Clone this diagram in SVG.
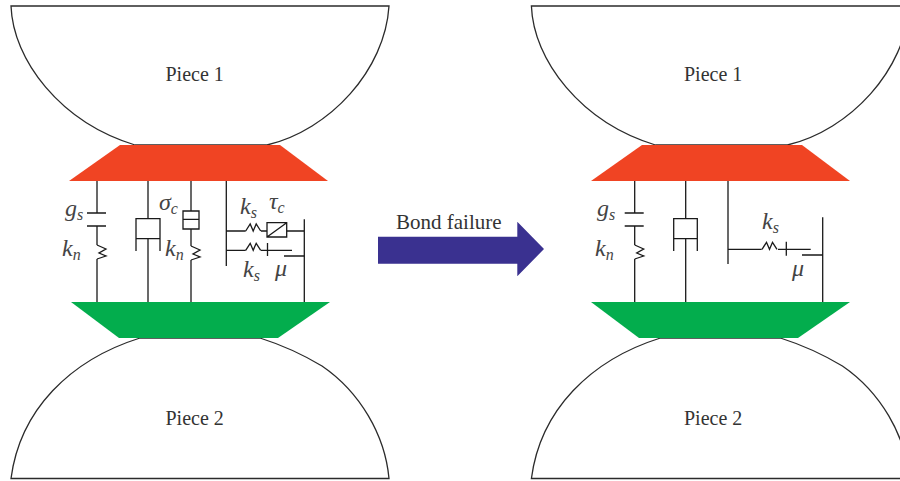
<svg xmlns="http://www.w3.org/2000/svg" width="900" height="481" viewBox="0 0 900 481">
<style>
.piece{fill:#fff;stroke:#2b2b2b;stroke-width:1.3}
.w{fill:none;stroke:#1a1a1a;stroke-width:1.3}
.t{font-family:"Liberation Serif",serif;font-size:20px;fill:#333}
.i{font-family:"Liberation Serif",serif;font-style:italic;font-size:24px;fill:#444}
.s{font-size:16px}
.red{fill:#f04423}
.green{fill:#03ad4d}
</style>
<defs>
<path id="top" d="M11,6 H389 C385,70 330,130 267,145 H135 C60,122 13,60 11,6 Z"/>
<path id="bot" d="M11,478.5 H389 C385,435 360,392 322,366 C302,354 282,345 260,338 H140 C70,360 20,410 11,478.5 Z"/>
<path id="spring" d="M0,0 L9,4 L2,8 L9,11 L0,14"/>
<path id="hs" d="M0,0 L4.5,-7 L7.5,0 L10.5,-7 L15,0"/>
</defs>
<g id="piece-1-left"><use href="#top" class="piece"/><text class="t" x="165.500" y="81">Piece 1</text></g>
<g id="piece-2-left"><use href="#bot" class="piece"/><text class="t" x="165.500" y="425">Piece 2</text></g>
<g id="piece-1-right"><use href="#top" class="piece" x="520.400"/><text class="t" x="684" y="81">Piece 1</text></g>
<g id="piece-2-right"><use href="#bot" class="piece" x="520.400"/><text class="t" x="684" y="425">Piece 2</text></g>
<g id="connectors">
<path class="w" d="M97,181 V213 M87,213 H106 M87,226 H106 M97,226 V245 M97,259 V302"/>
<use href="#spring" class="w" x="97" y="245"/>
<path class="w" d="M148,181 V218.700 M136,251 V218.700 H160 V251 M136,238.700 H160 M148,238.700 V302"/>
<path class="w" d="M191,181 V211 M183,211 H199 V229 H183 Z M183,219.300 H199 M191,229 V246 M191,260 V302"/>
<use href="#spring" class="w" x="191" y="246"/>
<path class="w" d="M226.300,181 V266 M226.300,231 H245.700 M261,231 H267 M267,222.700 H286.700 V237 H267 Z M267,237 L286.700,222.700 M286.700,231 H304.300 M304.300,219.300 V302"/>
<use href="#hs" class="w" x="245.700" y="231"/>
<path class="w" d="M226.300,250.300 H245.700 M261,250.300 H292 M267.500,243 V256 M284,256 H304.300"/>
<use href="#hs" class="w" x="245.700" y="250.300"/>
<path class="w" d="M634.700,181 V213 M624.700,213 H643.700 M624.700,226 H643.700 M634.700,226 V245 M634.700,259 V302"/>
<use href="#spring" class="w" x="634.700" y="245"/>
<path class="w" d="M685.700,181 V218.700 M673.700,251 V218.700 H697.300 V251 M673.700,238.700 H697.300 M685.700,238.700 V302"/>
<path class="w" d="M728,181 V264 M728,249.300 H761.700 M778,249.300 H810.700 M786.300,241.700 V255.700 M802,255 H822.700 M822.700,217.300 V302"/>
<use href="#hs" class="w" x="762" y="249.300"/>
</g>
<g id="block-red-left"><polygon class="red" points="120,145 280,145 328,181 69,181"/></g>
<g id="block-green-left"><polygon class="green" points="71,302 330,302 278,338 119,338"/></g>
<g id="block-red-right"><polygon class="red" points="642,145 802,145 850,181 591,181"/></g>
<g id="block-green-right"><polygon class="green" points="591,302 850,302 798,338 639,338"/></g>
<g id="labels">
<text class="i" x="65" y="216">g<tspan class="s" dy="4">s</tspan></text>
<text class="i" x="62" y="256">k<tspan class="s" dy="4">n</tspan></text>
<text class="i" x="159" y="210">σ<tspan class="s" dy="4">c</tspan></text>
<text class="i" x="165" y="256">k<tspan class="s" dy="4">n</tspan></text>
<text class="i" x="240" y="214">k<tspan class="s" dy="4">s</tspan></text>
<text class="i" x="269" y="209">τ<tspan class="s" dy="4">c</tspan></text>
<text class="i" x="243" y="277">k<tspan class="s" dy="4">s</tspan></text>
<text class="i" x="275" y="276">μ</text>
<text class="i" x="597" y="216">g<tspan class="s" dy="4">s</tspan></text>
<text class="i" x="595" y="256">k<tspan class="s" dy="4">n</tspan></text>
<text class="i" x="762" y="229">k<tspan class="s" dy="4">s</tspan></text>
<text class="i" x="792" y="276">μ</text>
</g>
<g id="bond-failure"><polygon fill="#3a3190" points="378,236.700 517.300,236.700 517.300,221.700 544,249 517.300,276.300 517.300,263.700 378,263.700"/><text class="t" style="font-size:21px" x="396" y="229">Bond failure</text></g>
</svg>
